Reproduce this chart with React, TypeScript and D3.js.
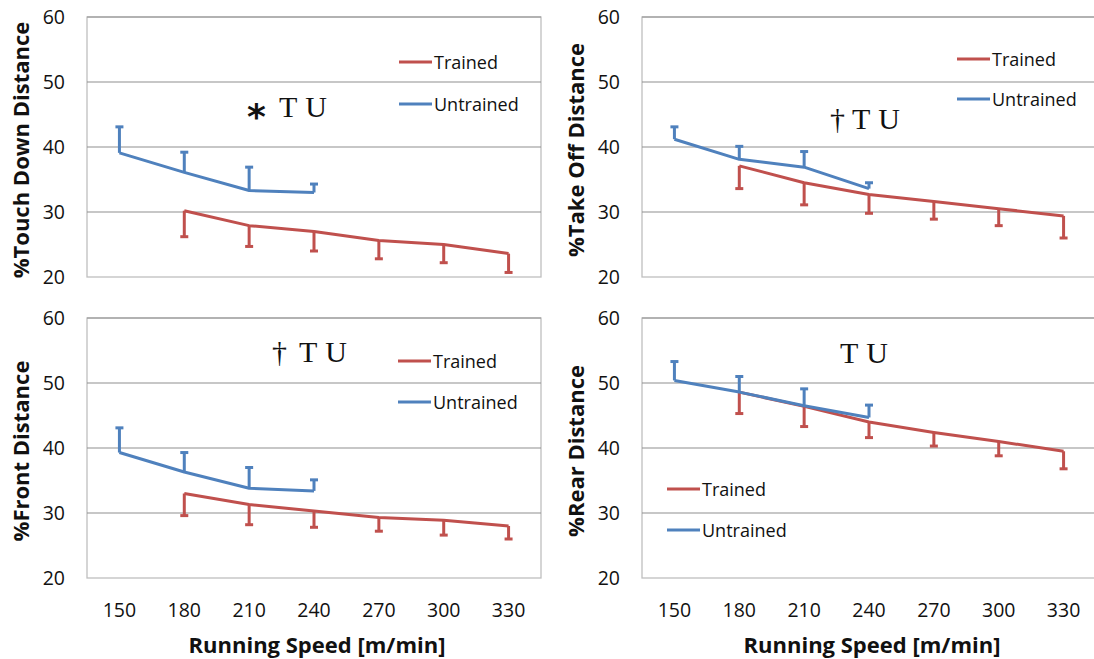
import * as d3 from "d3";

const W = 1094;
const H = 659;
const PLOT_W = 454;
const PLOT_H = 260;

const SPEEDS = [150, 180, 210, 240, 270, 300, 330];
const UNTRAINED_SPEEDS = [150, 180, 210, 240];
const TRAINED_SPEEDS = [180, 210, 240, 270, 300, 330];
const Y_TICKS = [20, 30, 40, 50, 60];

// means and SD (error bars)
const touchUntrained = [39.1, 36.1, 33.3, 33.0];
const touchUntrainedSd = [4.0, 3.1, 3.6, 1.3];
const touchTrained = [30.2, 27.9, 27.0, 25.6, 25.0, 23.6];
const touchTrainedSd = [4.0, 3.2, 3.0, 2.8, 2.8, 2.9];

const takeOffUntrained = [41.2, 38.1, 36.9, 33.6];
const takeOffUntrainedSd = [1.9, 2.0, 2.4, 0.9];
const takeOffTrained = [37.1, 34.5, 32.7, 31.6, 30.5, 29.4];
const takeOffTrainedSd = [3.5, 3.4, 2.9, 2.7, 2.6, 3.4];

const frontUntrained = [39.3, 36.3, 33.8, 33.4];
const frontUntrainedSd = [3.8, 3.0, 3.2, 1.7];
const frontTrained = [33.0, 31.3, 30.3, 29.3, 28.9, 28.0];
const frontTrainedSd = [3.4, 3.1, 2.5, 2.1, 2.3, 2.0];

const rearUntrained = [50.4, 48.6, 46.5, 44.7];
const rearUntrainedSd = [2.9, 2.4, 2.6, 1.9];
const rearTrained = [48.6, 46.4, 44.0, 42.4, 41.0, 39.5];
const rearTrainedSd = [3.3, 3.1, 2.4, 2.1, 2.2, 2.7];

const RED = "#C0504D";
const BLUE = "#4F81BD";
const SANS = "'Open Sans', 'DejaVu Sans', sans-serif";
const SERIF = "'Liberation Serif', 'DejaVu Serif', serif";

const panels = [
  {
    title: "%Touch Down Distance",
    untrained: touchUntrained, untrainedSd: touchUntrainedSd,
    trained: touchTrained, trainedSd: touchTrainedSd,
    symbol: "*",
    left: 87, top: 17, showX: false,
    legend: { x: 312, y: 45, gap: 42 },
    mark: { symX: 160, tuX: 192, y: 100 },
  },
  {
    title: "%Take Off Distance",
    untrained: takeOffUntrained, untrainedSd: takeOffUntrainedSd,
    trained: takeOffTrained, trainedSd: takeOffTrainedSd,
    symbol: "†",
    left: 642, top: 17, showX: false,
    legend: { x: 315, y: 42, gap: 40 },
    mark: { symX: 188, tuX: 210, y: 112 },
  },
  {
    title: "%Front Distance",
    untrained: frontUntrained, untrainedSd: frontUntrainedSd,
    trained: frontTrained, trainedSd: frontTrainedSd,
    symbol: "†",
    left: 87, top: 318, showX: true,
    legend: { x: 311, y: 43, gap: 41 },
    mark: { symX: 185, tuX: 212, y: 44 },
  },
  {
    title: "%Rear Distance",
    untrained: rearUntrained, untrainedSd: rearUntrainedSd,
    trained: rearTrained, trainedSd: rearTrainedSd,
    symbol: "",
    left: 642, top: 318, showX: true,
    legend: { x: 25, y: 171, gap: 41 },
    mark: { symX: 0, tuX: 198, y: 45 },
  },
];

type Pt = { s: number; v: number; sd: number };

const Panel = ({ p }: { p: (typeof panels)[number] }) => {
  const x = d3
    .scalePoint<number>()
    .domain(SPEEDS)
    .range([p.left, p.left + PLOT_W])
    .padding(0.5);
  const y = d3.scaleLinear().domain([20, 60]).range([p.top + PLOT_H, p.top]);

  const line = d3
    .line<Pt>()
    .x((d) => x(d.s)!)
    .y((d) => y(d.v));

  const tr: Pt[] = TRAINED_SPEEDS.map((s, i) => ({ s, v: p.trained[i], sd: p.trainedSd[i] }));
  const un: Pt[] = UNTRAINED_SPEEDS.map((s, i) => ({ s, v: p.untrained[i], sd: p.untrainedSd[i] }));

  const errBars = (pts: Pt[], dir: number, color: string) =>
    pts.map((d, i) => {
      const cx = x(d.s)!;
      const end = y(d.v + dir * d.sd);
      return (
        <g key={i} stroke={color} strokeWidth={3}>
          <line x1={cx} x2={cx} y1={y(d.v)} y2={end} />
          <line x1={cx - 4} x2={cx + 4} y1={end} y2={end} />
        </g>
      );
    });

  const right = Math.min(p.left + PLOT_W, W + 2);
  const lx = p.left + p.legend.x;
  const ly = p.top + p.legend.y;

  return (
    <g>
      <rect x={p.left} y={p.top} width={PLOT_W} height={PLOT_H} fill="none" stroke="#BFBFBF" strokeWidth={1.3} />
      {Y_TICKS.slice(1).map((t) => (
        <line key={t} x1={p.left} x2={right} y1={y(t)} y2={y(t)} stroke="#8F8F8F" strokeWidth={1.2} />
      ))}
      {Y_TICKS.map((t) => (
        <text key={t} x={p.left - 22} y={y(t) + 7} textAnchor="end" fontFamily={SANS} fontSize={19.5} fill="#111">
          {t}
        </text>
      ))}
      <text
        transform={`translate(${p.left - 58},${p.top + PLOT_H / 2 + 3}) rotate(-90)`}
        textAnchor="middle"
        fontFamily={SANS}
        fontSize={22}
        fontWeight="bold"
        fill="#111"
      >
        {p.title}
      </text>
      {p.showX &&
        SPEEDS.map((s) => (
          <text key={s} x={x(s)} y={617} textAnchor="middle" fontFamily={SANS} fontSize={19.5} fill="#111">
            {s}
          </text>
        ))}
      {p.showX && (
        <text x={p.left + PLOT_W / 2 + 3} y={653} textAnchor="middle" fontFamily={SANS} fontSize={22} fontWeight="bold" fill="#111">
          Running Speed [m/min]
        </text>
      )}

      <path d={line(tr)!} fill="none" stroke={RED} strokeWidth={3} strokeLinejoin="round" />
      {errBars(tr, -1, RED)}
      <path d={line(un)!} fill="none" stroke={BLUE} strokeWidth={3} strokeLinejoin="round" />
      {errBars(un, 1, BLUE)}

      {[
        { label: "Trained", color: RED, yy: ly },
        { label: "Untrained", color: BLUE, yy: ly + p.legend.gap },
      ].map((l) => (
        <g key={l.label}>
          <line x1={lx} x2={lx + 33} y1={l.yy} y2={l.yy} stroke={l.color} strokeWidth={3} />
          <text x={lx + 35} y={l.yy + 6.5} fontFamily={SANS} fontSize={18} fill="#111">
            {l.label}
          </text>
        </g>
      ))}

      {p.symbol === "*" && (
        <text x={p.left + p.mark.symX} y={p.top + p.mark.y + 12} fontFamily="'DejaVu Sans', sans-serif" fontWeight="bold" fontSize={36} fill="#111">
          *
        </text>
      )}
      {p.symbol === "†" && (
        <text x={p.left + p.mark.symX} y={p.top + p.mark.y} fontFamily={SERIF} fontSize={30} fill="#111">
          †
        </text>
      )}
      <text x={p.left + p.mark.tuX} y={p.top + p.mark.y} fontFamily={SERIF} fontSize={30} fill="#111" wordSpacing={1}>
        T U
      </text>
    </g>
  );
};

export default function App() {
  return (
    <svg width={W} height={H} style={{ position: "absolute", left: 0, top: 0, background: "#fff" }}>
      <rect width={W} height={H} fill="#fff" />
      {panels.map((p, i) => (
        <Panel key={i} p={p} />
      ))}
    </svg>
  );
}
